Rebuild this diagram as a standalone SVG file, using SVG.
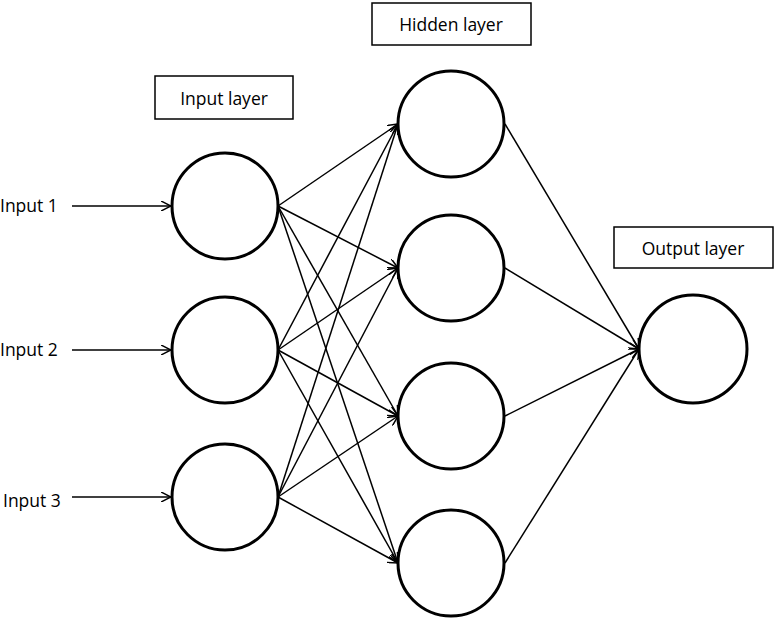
<svg xmlns="http://www.w3.org/2000/svg" width="775" height="620" viewBox="0 0 775 620">
<defs>
<marker id="ah" viewBox="0 0 10 10" refX="10" refY="5" markerWidth="10" markerHeight="10" markerUnits="userSpaceOnUse" orient="auto">
<path d="M0,0 L10,5 L0,10" fill="none" stroke="#000" stroke-width="1.5"/>
</marker>
<style>
.n{fill:#fff;stroke:#000;stroke-width:3}
.b{fill:#fff;stroke:#000;stroke-width:1.5}
.t{font-family:"Open Sans","Liberation Sans",sans-serif;font-size:17.5px;fill:#000}
.c line{stroke:#000;stroke-width:1.5;marker-end:url(#ah)}
</style>
</defs>
<rect width="775" height="620" fill="#fff"/>
<g id="label-input"><rect class="b" x="155" y="76" width="138" height="43"/><text class="t" x="224" y="105" text-anchor="middle">Input layer</text></g>
<g id="label-hidden"><rect class="b" x="372" y="3" width="159" height="42"/><text class="t" x="451" y="31" text-anchor="middle">Hidden layer</text></g>
<g id="label-output"><rect class="b" x="614" y="227" width="159" height="41"/><text class="t" x="693" y="255" text-anchor="middle">Output layer</text></g>
<g id="in-text-1"><text class="t" x="0" y="212">Input 1</text></g>
<g id="in-text-2"><text class="t" x="0" y="356">Input 2</text></g>
<g id="in-text-3"><text class="t" x="3" y="507">Input 3</text></g>
<g id="connectors" class="c">
<line x1="72" y1="206" x2="171" y2="206"/>
<line x1="72" y1="350" x2="171" y2="350"/>
<line x1="72" y1="497" x2="171" y2="497"/>
<line x1="278" y1="206" x2="398" y2="124"/>
<line x1="278" y1="206" x2="398" y2="268"/>
<line x1="278" y1="206" x2="398" y2="416"/>
<line x1="278" y1="206" x2="398" y2="563"/>
<line x1="278" y1="350" x2="398" y2="124"/>
<line x1="278" y1="350" x2="398" y2="268"/>
<line x1="278" y1="350" x2="398" y2="416"/>
<line x1="278" y1="350" x2="398" y2="563"/>
<line x1="278" y1="497" x2="398" y2="124"/>
<line x1="278" y1="497" x2="398" y2="268"/>
<line x1="278" y1="497" x2="398" y2="416"/>
<line x1="278" y1="497" x2="398" y2="563"/>
<line x1="505" y1="124" x2="639" y2="349"/>
<line x1="505" y1="268" x2="639" y2="349"/>
<line x1="505" y1="416" x2="639" y2="349"/>
<line x1="505" y1="563" x2="639" y2="349"/>
</g>
<g id="input-1"><circle class="n" cx="225" cy="206" r="53"/></g>
<g id="input-2"><circle class="n" cx="225" cy="350" r="53"/></g>
<g id="input-3"><circle class="n" cx="225" cy="497" r="53"/></g>
<g id="hidden-1"><circle class="n" cx="451" cy="124" r="53"/></g>
<g id="hidden-2"><circle class="n" cx="451" cy="268" r="53"/></g>
<g id="hidden-3"><circle class="n" cx="451" cy="416" r="53"/></g>
<g id="hidden-4"><circle class="n" cx="451" cy="563" r="53"/></g>
<g id="output-1"><circle class="n" cx="693" cy="349" r="54"/></g>
</svg>
